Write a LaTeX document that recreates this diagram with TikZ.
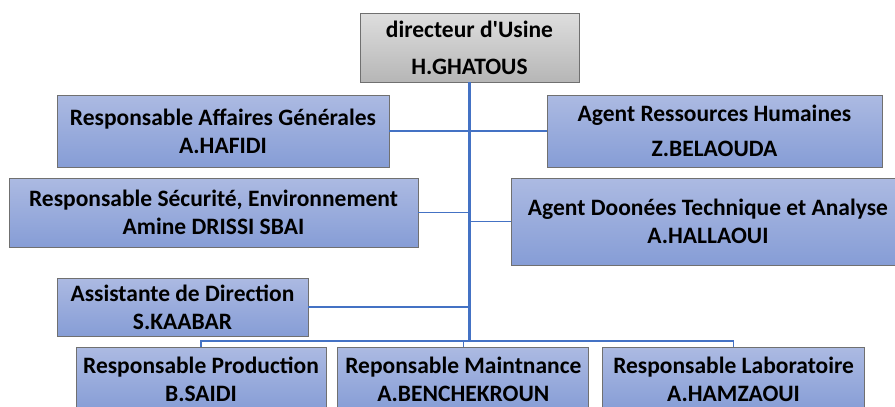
\documentclass[tikz,border=0pt]{standalone}
\usepackage{fontspec}
\setmainfont{Carlito}
\usepackage{tikz}
\usetikzlibrary{positioning,shapes,backgrounds}
\definecolor{dirtop}{RGB}{222,222,222}
\definecolor{dirbot}{RGB}{182,182,182}
\definecolor{resptop}{RGB}{172,186,226}
\definecolor{respbot}{RGB}{134,157,214}
\definecolor{edgegray}{RGB}{112,112,112}
\definecolor{linkblue}{RGB}{68,114,196}
\tikzstyle{DIR_COLOR}  = [top color=dirtop, bottom color=dirbot]
\tikzstyle{RESP_COLOR} = [top color=resptop, bottom color=respbot]
\tikzstyle{unit}       = [rectangle, draw=edgegray, line width=0.8pt, align=center, inner sep=0pt,
                          text=black, font=\fontsize{23.5}{28}\selectfont\bfseries]
\tikzstyle{DIR_UNIT}   = [unit, DIR_COLOR, minimum width=219pt, minimum height=69pt]
\tikzstyle{RESP_UNIT}  = [unit, RESP_COLOR]
\tikzstyle{BOTTOM_UNIT} = [RESP_UNIT, minimum height=64pt]
\tikzstyle{link}       = [draw=linkblue, line width=1.5pt]
\tikzstyle{trunk}      = [link, line width=2.4pt]

\begin{document}
\begin{tikzpicture}[x=1pt, y=-1pt, node distance = 11pt and 11pt]
  \useasboundingbox (0,0) rectangle (895,407);

  % direction
  \node[DIR_UNIT] (DIR) at (469.5,47.5) {directeur d\textquotesingle Usine\\[9pt]H.GHATOUS};

  % left side
  \node[RESP_UNIT, minimum width=332pt, minimum height=72pt] (AFF) at (223,131) {Responsable Affaires Générales\\A.HAFIDI};
  \node[RESP_UNIT, minimum width=409pt, minimum height=69pt] (SEC) at (213.5,212.5) {Responsable Sécurité, Environnement\\Amine DRISSI SBAI};
  \node[RESP_UNIT, minimum width=251pt, minimum height=58pt] (ASS) at (182.5,307) {Assistante de Direction\\S.KAABAR};

  % right side
  \node[RESP_UNIT, minimum width=335pt, minimum height=72pt] (RH) at (714.5,131) {Agent Ressources Humaines\\[7pt]Z.BELAOUDA};
  \node[RESP_UNIT, minimum width=394pt, minimum height=87pt] (DON) at (708,221.5) {Agent Doonées Technique et Analyse\\A.HALLAOUI};

  % bottom row
  \node[BOTTOM_UNIT, minimum width=250pt] (PROD) at (201,379) {Responsable Production\\B.SAIDI};
  \node[BOTTOM_UNIT, minimum width=251pt, right=of PROD] (MAINT) {Reponsable Maintnance\\A.BENCHEKROUN};
  \node[BOTTOM_UNIT, minimum width=262pt, right=13pt of MAINT] (LAB) {Responsable Laboratoire\\A.HAMZAOUI};

  \coordinate (BUS) at (469,341);

  % links
  \draw[trunk] (DIR.south) -- (DIR.south |- BUS);
  \draw[link] (AFF.east) -- (AFF.east -| DIR.south);
  \draw[link] (SEC.east) -- (SEC.east -| DIR.south);
  \draw[link] (ASS.east) -- (ASS.east -| DIR.south);
  \draw[link] (RH.west) -- (RH.west -| DIR.south);
  \draw[link] (DON.west) -- (DON.west -| DIR.south);
  \draw[link] (PROD.north) |- (BUS) -| (LAB.north);
  \draw[link] (MAINT.north) -- (MAINT.north |- BUS);
\end{tikzpicture}
\end{document}
